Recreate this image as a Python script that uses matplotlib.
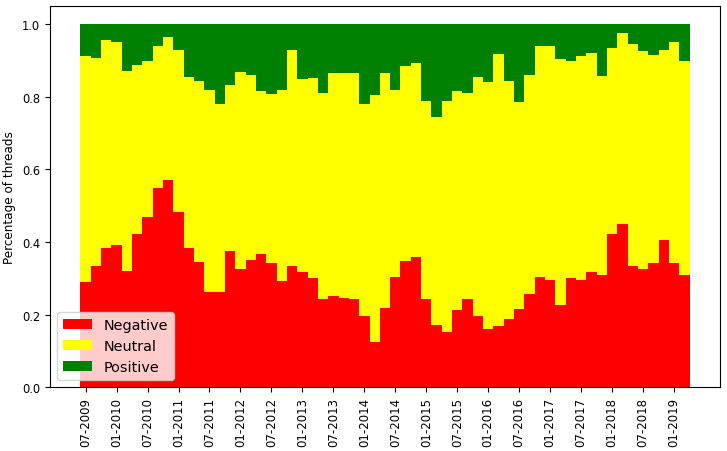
import numpy as np
import matplotlib
matplotlib.use("Agg")
import matplotlib.pyplot as plt

# Bimonthly periods starting 07-2009 (59 bars)
start_year, start_month = 2009, 7
n_bars = 59
periods = []
for i in range(n_bars):
    m = start_month - 1 + 2 * i
    periods.append(f"{m % 12 + 1:02d}-{start_year + m // 12}")

negative = [0.289, 0.333, 0.383, 0.391, 0.320, 0.421, 0.468, 0.548, 0.570, 0.482,
            0.383, 0.344, 0.262, 0.262, 0.375, 0.325, 0.350, 0.366, 0.341, 0.292,
            0.333, 0.317, 0.300, 0.242, 0.251, 0.245, 0.242, 0.195, 0.124, 0.217,
            0.303, 0.347, 0.358, 0.242, 0.171, 0.152, 0.212, 0.242, 0.195, 0.160,
            0.168, 0.187, 0.215, 0.256, 0.303, 0.295, 0.226, 0.300, 0.295, 0.317,
            0.308, 0.421, 0.449, 0.333, 0.325, 0.341, 0.405, 0.341, 0.308]
neg_plus_neu = [0.912, 0.905, 0.956, 0.950, 0.870, 0.887, 0.898, 0.939, 0.964, 0.928,
                0.854, 0.843, 0.818, 0.780, 0.832, 0.868, 0.860, 0.815, 0.807, 0.818,
                0.928, 0.848, 0.851, 0.810, 0.865, 0.865, 0.865, 0.780, 0.804, 0.865,
                0.818, 0.884, 0.893, 0.788, 0.744, 0.788, 0.815, 0.810, 0.854, 0.840,
                0.917, 0.843, 0.785, 0.860, 0.939, 0.939, 0.904, 0.898, 0.912, 0.920,
                0.857, 0.934, 0.975, 0.946, 0.926, 0.915, 0.928, 0.950, 0.898]
negative = np.array(negative)
neutral = np.array(neg_plus_neu) - negative
positive = 1.0 - np.array(neg_plus_neu)

fig = plt.figure(figsize=(7.27, 4.52), dpi=100)
ax = fig.add_axes([50 / 727, (452 - 388.3) / 452, 670 / 727, (388.3 - 6.8) / 452])

x = np.arange(n_bars)
ax.bar(x, negative, width=1.0, color="red", label="Negative")
ax.bar(x, neutral, width=1.0, bottom=negative, color="yellow", label="Neutral")
ax.bar(x, positive, width=1.0, bottom=negative + neutral, color="green", label="Positive")

tick_idx = x[::3]
ax.set_xticks(tick_idx)
ax.set_xticklabels([periods[i] for i in tick_idx], rotation=90, fontsize=8.5)
ax.tick_params(axis="y", labelsize=8.3)
ax.set_ylabel("Percentage of threads", fontsize=8.64)
ax.legend(loc="lower left", fontsize=10.4)

fig.savefig("out.png", dpi=100)
